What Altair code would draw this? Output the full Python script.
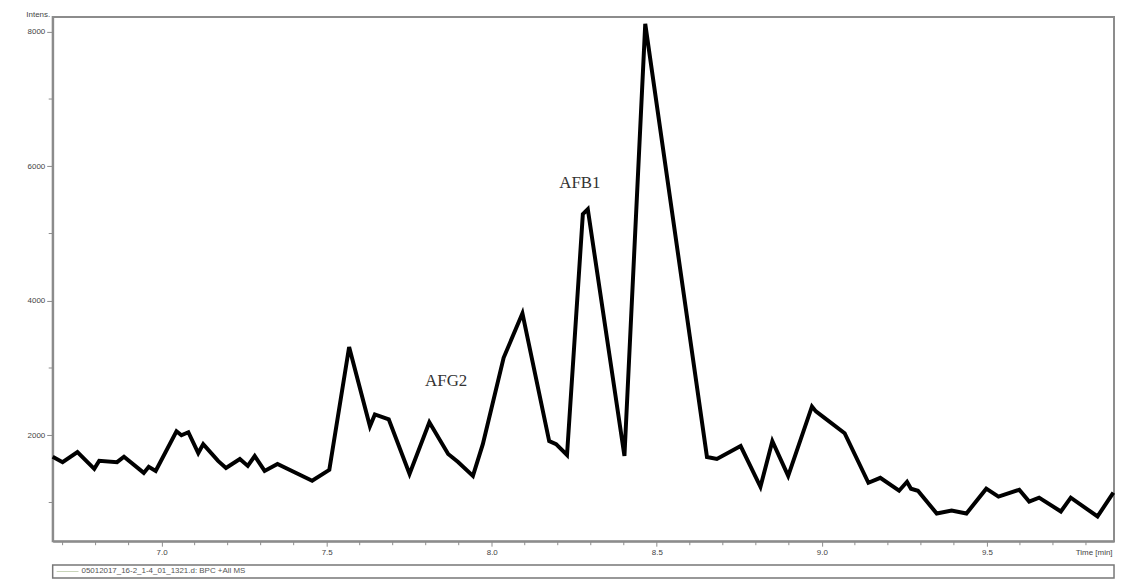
import altair as alt
import pandas as pd

# --- data ---
time_min = [6.670, 6.700, 6.745, 6.796, 6.811, 6.865, 6.886, 6.946, 6.961, 6.982,
            7.045, 7.060, 7.081, 7.111, 7.126, 7.171, 7.195, 7.237, 7.261, 7.282,
            7.312, 7.351, 7.456, 7.508, 7.568, 7.631, 7.646, 7.688, 7.751, 7.811,
            7.868, 7.898, 7.943, 7.973, 8.036, 8.093, 8.174, 8.195, 8.228, 8.276,
            8.291, 8.402, 8.465, 8.652, 8.682, 8.754, 8.814, 8.850, 8.898, 8.970,
            8.982, 9.006, 9.069, 9.141, 9.177, 9.234, 9.258, 9.270, 9.291, 9.348,
            9.393, 9.438, 9.498, 9.535, 9.598, 9.628, 9.658, 9.724, 9.754, 9.835,
            9.883]
intensity = [1680, 1600, 1750, 1500, 1620, 1600, 1680, 1440, 1530, 1470,
             2060, 2000, 2045, 1735, 1868, 1618, 1514, 1647, 1544, 1691,
             1470, 1573, 1323, 1485, 3313, 2133, 2310, 2237, 1426, 2192,
             1721, 1603, 1396, 1868, 3151, 3814, 1912, 1868, 1706, 5288,
             5362, 1691, 8118, 1677, 1647, 1839, 1234, 1912, 1396, 2428,
             2355, 2266, 2030, 1293, 1367, 1175, 1308, 1205, 1175, 836,
             881, 836, 1205, 1087, 1190, 1013, 1072, 866, 1072, 792,
             1146]

x_major = [7.0, 7.5, 8.0, 8.5, 9.0, 9.5]
x_minor = [6.7, 6.8, 6.9, 7.1, 7.2, 7.3, 7.4, 7.6, 7.7, 7.8, 7.9,
           8.1, 8.2, 8.3, 8.4, 8.6, 8.7, 8.8, 8.9, 9.1, 9.2, 9.3, 9.4,
           9.6, 9.7, 9.8]
y_major = [2000, 4000, 6000, 8000]
y_minor = [1000, 3000, 5000, 7000]

peak_names = ["AFG2", "AFB1"]
peak_time = [7.862, 8.267]
peak_value = [2812, 5745]

legend_text = "05012017_16-2_1-4_01_1321.d: BPC +All MS"

x_domain = [6.67, 9.885]
y_domain = [424, 8220]

W, H = 1069, 528
GRAY = "#8c8c8c"

df = pd.DataFrame({"t": time_min, "v": intensity})
ann = pd.DataFrame({"name": peak_names, "t": peak_time, "v": peak_value})
leg = pd.DataFrame({"label": [legend_text]})
xminor_df = pd.DataFrame({"t": x_minor})
yminor_df = pd.DataFrame({"v": y_minor})

xs = alt.Scale(domain=x_domain, nice=False, zero=False)
ys = alt.Scale(domain=y_domain, nice=False, zero=False)

line = alt.Chart(df).mark_line(color="black", strokeWidth=4, strokeJoin="miter").encode(
    x=alt.X("t:Q", scale=xs,
            axis=alt.Axis(values=x_major, format=".1f", orient="bottom",
                          title="Time [min]", titleX=W - 2, titleY=7,
                          titleAlign="right", titleBaseline="top",
                          titleFontSize=8, titleFontWeight="normal",
                          titleColor="#444", titleFont="Liberation Sans",
                          tickSize=5, labelPadding=2, grid=False)),
    y=alt.Y("v:Q", scale=ys,
            axis=alt.Axis(values=y_major, format="d", orient="left",
                          title="Intens.", titleAngle=0, titleX=-3, titleY=-3,
                          titleAlign="right", titleBaseline="middle",
                          titleFontSize=8, titleFontWeight="normal",
                          titleColor="#444", titleFont="Liberation Sans",
                          tickSize=6, labelPadding=2, grid=False)),
)

xminor_ticks = alt.Chart(xminor_df).mark_rule(color=GRAY, strokeWidth=1).encode(
    x=alt.X("t:Q", scale=xs), y=alt.value(H), y2=alt.value(H + 4)
)
yminor_ticks = alt.Chart(yminor_df).mark_rule(color=GRAY, strokeWidth=1).encode(
    y=alt.Y("v:Q", scale=ys), x=alt.value(-4), x2=alt.value(0)
)

labels = alt.Chart(ann).mark_text(font="Liberation Serif", fontSize=17,
                                  color="#333", baseline="middle").encode(
    x=alt.X("t:Q", scale=xs),
    y=alt.Y("v:Q", scale=ys),
    text="name:N",
)

box = alt.Chart(leg).mark_rect(fill="white", stroke="#777", strokeWidth=1.5).encode(
    x=alt.value(0), x2=alt.value(W), y=alt.value(H + 24), y2=alt.value(H + 37)
)
sample = alt.Chart(leg).mark_rule(stroke="#c8d4b8", strokeWidth=1).encode(
    x=alt.value(4), x2=alt.value(26), y=alt.value(H + 30.5)
)
legend_label = alt.Chart(leg).mark_text(align="left", baseline="middle", fontSize=8,
                                        color="#555", font="Liberation Sans").encode(
    x=alt.value(29), y=alt.value(H + 30.5), text="label:N"
)

chart = alt.layer(line, xminor_ticks, yminor_ticks, labels, box, sample, legend_label).properties(
    width=W, height=H,
    padding={"left": 45, "top": 7, "right": 2, "bottom": 38},
    autosize=alt.AutoSizeParams(type="none"),
).configure_view(
    stroke=GRAY, strokeWidth=2
).configure_axis(
    domainColor=GRAY, domainWidth=2, tickColor=GRAY, tickWidth=1,
    labelColor="#444", labelFont="Liberation Sans", labelFontSize=8,
)

chart.save("out.html", embed_options={"renderer": "svg", "actions": False})
